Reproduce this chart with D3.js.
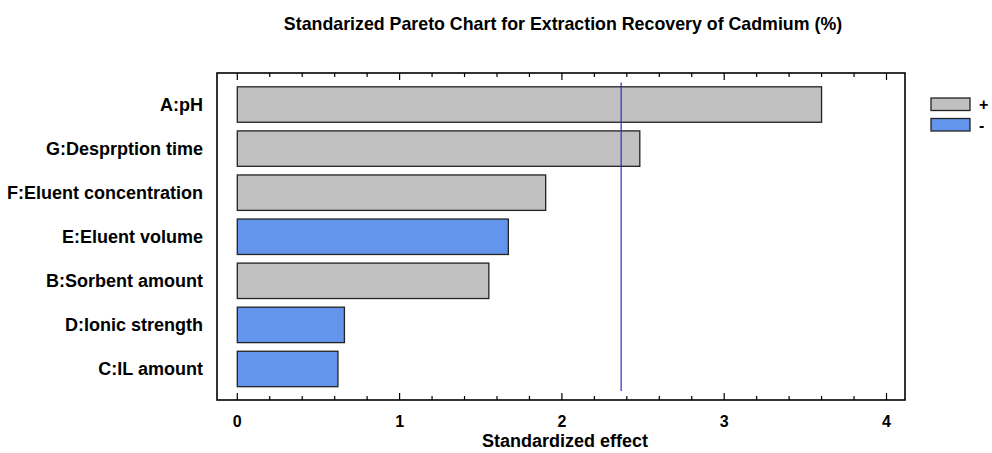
<!DOCTYPE html>
<html>
<head>
<meta charset="utf-8">
<script src="https://cdn.jsdelivr.net/npm/d3@7"></script>
<style>
  html, body { margin: 0; padding: 0; background: #fff; }
  svg { display: block; font-family: "Liberation Sans", Arial, Helvetica, sans-serif; }
</style>
</head>
<body>
<svg id="chart" width="992" height="453"></svg>
<script>
const factors = ["A:pH", "G:Desprption time", "F:Eluent concentration", "E:Eluent volume", "B:Sorbent amount", "D:Ionic strength", "C:IL amount"];
const effects = [3.60, 2.48, 1.90, 1.67, 1.55, 0.66, 0.62];
const signs = ["+", "+", "+", "-", "+", "-", "-"];
const criticalValue = 2.365;
const xTicks = [0, 1, 2, 3, 4];
const legendItems = ["+", "-"];
const title = "Standarized Pareto Chart for Extraction Recovery of Cadmium (%)";
const xTitle = "Standardized effect";

const colors = { "+": "#c0c0c0", "-": "#6495ed" };

const svg = d3.select("#chart");
const frame = { left: 217, right: 905, top: 73, bottom: 400 };

const x = d3.scaleLinear().domain([0, 4]).range([237.3, 886.5]);
const y = d3.scaleBand().domain(factors).range([82.5, 391]).paddingInner(0.196).paddingOuter(0.098);

// title
svg.append("text").attr("x", 563).attr("y", 30).attr("text-anchor", "middle")
  .attr("font-weight", "bold").attr("font-size", 17.8).text(title);

// bars
svg.append("g").selectAll("rect").data(factors).join("rect")
  .attr("x", x(0))
  .attr("y", d => y(d))
  .attr("width", (d, i) => x(effects[i]) - x(0))
  .attr("height", y.bandwidth())
  .attr("fill", (d, i) => colors[signs[i]])
  .attr("stroke", "#222").attr("stroke-width", 1.3);

// critical line
svg.append("line").attr("x1", x(criticalValue)).attr("x2", x(criticalValue))
  .attr("y1", y.range()[0]).attr("y2", y.range()[1])
  .attr("stroke", "#2a2acc").attr("stroke-width", 1.2);

// frame
svg.append("rect").attr("x", frame.left).attr("y", frame.top)
  .attr("width", frame.right - frame.left).attr("height", frame.bottom - frame.top)
  .attr("fill", "none").attr("stroke", "#000").attr("stroke-width", 1.6);

// ticks bottom and top
const minor = d3.range(0, 4.0001, 0.2).map(v => +v.toFixed(1));
const isMajor = v => Math.abs(v - Math.round(v)) < 1e-6;
const tg = svg.append("g").attr("stroke", "#000").attr("stroke-width", 1.2);
minor.forEach(v => {
  const len = isMajor(v) ? 7 : 4;
  tg.append("line").attr("x1", x(v)).attr("x2", x(v)).attr("y1", frame.bottom).attr("y2", frame.bottom - len);
  tg.append("line").attr("x1", x(v)).attr("x2", x(v)).attr("y1", frame.top).attr("y2", frame.top + len);
});

// bottom tick labels
svg.append("g").selectAll("text").data(xTicks).join("text")
  .attr("x", d => x(d)).attr("y", 427).attr("text-anchor", "middle")
  .attr("font-weight", "bold").attr("font-size", 16).text(d => d);

// x title
svg.append("text").attr("x", 565).attr("y", 446.5).attr("text-anchor", "middle")
  .attr("font-weight", "bold").attr("font-size", 18).text(xTitle);

// y labels
svg.append("g").selectAll("text").data(factors).join("text")
  .attr("x", 203).attr("y", d => y(d) + y.bandwidth() / 2 + 6.5).attr("text-anchor", "end")
  .attr("font-weight", "bold").attr("font-size", 18).text(d => d);

// legend
const lg = svg.append("g");
legendItems.forEach((s, i) => {
  lg.append("rect").attr("x", 931).attr("y", 98 + i * 20.5).attr("width", 39).attr("height", 12.5)
    .attr("fill", colors[s]).attr("stroke", "#222").attr("stroke-width", 1.3);
  lg.append("text").attr("x", 979).attr("y", 110 + i * 20.5)
    .attr("font-weight", "bold").attr("font-size", 16).text(s);
});
</script>
</body>
</html>
